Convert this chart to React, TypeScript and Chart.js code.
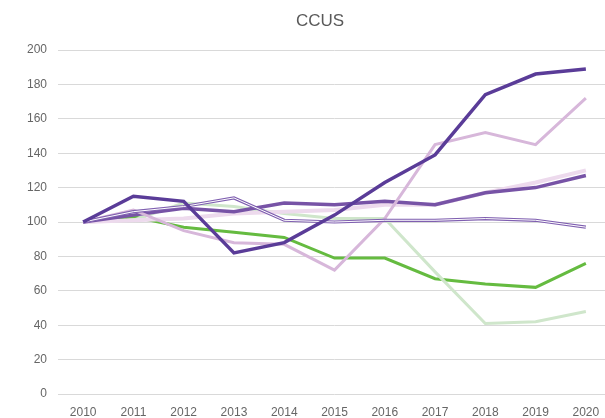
import React, { useEffect, useRef } from "react";
import { Chart, registerables } from "chart.js";

Chart.register(...registerables);

const titleText = "CCUS";
const years = ["2010", "2011", "2012", "2013", "2014", "2015", "2016", "2017", "2018", "2019", "2020"];

const seriesA = [100, 115, 112, 82, 88, 104, 123, 139, 174, 186, 189];
const seriesB = [100, 107, 95, 88, 87, 72, 102, 145, 152, 145, 172];
const seriesC = [100, 104, 108, 106, 111, 110, 112, 110, 117, 120, 127];
const seriesD = [100, 101, 102, 105, 106, 107, 110, 110, 117, 123, 130];
const seriesE = [100, 106, 109, 114, 101, 100, 101, 101, 102, 101, 97];
const seriesF = [100, 103, 97, 94, 91, 79, 79, 67, 64, 62, 76];
const seriesG = [100, 101, 111, 109, 105, 102, 102, 71, 41, 42, 48];

const W = 650;
const H = 418;
const FONT = "'Liberation Sans', Arial, sans-serif";

const titlePlugin = {
  id: "centerTitle",
  afterDraw(chart: any) {
    const ctx = chart.ctx;
    ctx.save();
    ctx.font = `17px ${FONT}`;
    ctx.fillStyle = "#595959";
    ctx.textAlign = "center";
    ctx.textBaseline = "middle";
    ctx.fillText(titleText, 320, 21);
    ctx.restore();
  },
};

export default function App() {
  const ref = useRef<HTMLCanvasElement | null>(null);

  useEffect(() => {
    if (!ref.current) return;
    const mk = (label: string, data: number[], color: string, width: number, order: number) => ({
      label,
      data,
      borderColor: color,
      backgroundColor: color,
      borderWidth: width,
      pointRadius: 0,
      pointHoverRadius: 0,
      tension: 0,
      fill: false,
      order,
      borderJoinStyle: "miter" as const,
    });
    const chart = new Chart(ref.current, {
      type: "line",
      data: {
        labels: years,
        datasets: [
          mk("A", seriesA, "#5a3c98", 3.5, 1),
          mk("B", seriesB, "#d7b7da", 3, 3),
          mk("C", seriesC, "#7753a6", 3.5, 4),
          mk("D", seriesD, "#eddaed", 4, 5),
          mk("E2", seriesE, "#ffffff", 1, 2),
          mk("E", seriesE, "#7f5fb0", 3.2, 2.5),
          mk("F", seriesF, "#65bb40", 3, 6),
          mk("G", seriesG, "#cfe6cb", 3, 5.5),
        ],
      },
      plugins: [titlePlugin],
      options: {
        responsive: false,
        animation: false,
        devicePixelRatio: 1,
        layout: { padding: { left: 0, right: W - 611, top: 50, bottom: 0 } },
        plugins: {
          legend: { display: false },
          tooltip: { enabled: false },
          title: { display: false },
        },
        scales: {
          x: {
            grid: { display: false },
            border: { display: false },
            offset: true,
            ticks: {
              color: "#666666",
              font: { family: FONT, size: 12 },
              padding: 3,
              maxRotation: 0,
              autoSkip: false,
            },
            afterFit: (s: any) => {
              s.height = 24;
            },
          },
          y: {
            min: 0,
            max: 200,
            grid: { color: "#d9d9d9", lineWidth: 1, drawTicks: false },
            border: { display: false },
            ticks: {
              stepSize: 20,
              color: "#666666",
              font: { family: FONT, size: 12 },
              padding: 11,
            },
            afterFit: (s: any) => {
              s.width = 58;
            },
          },
        },
      },
    });
    return () => chart.destroy();
  }, []);

  return (
    <div style={{ position: "fixed", left: 0, top: 0, width: 605, height: 418, overflow: "hidden", background: "#fff" }}>
      <canvas ref={ref} width={W} height={H} style={{ width: W, height: H, display: "block" }} />
    </div>
  );
}
